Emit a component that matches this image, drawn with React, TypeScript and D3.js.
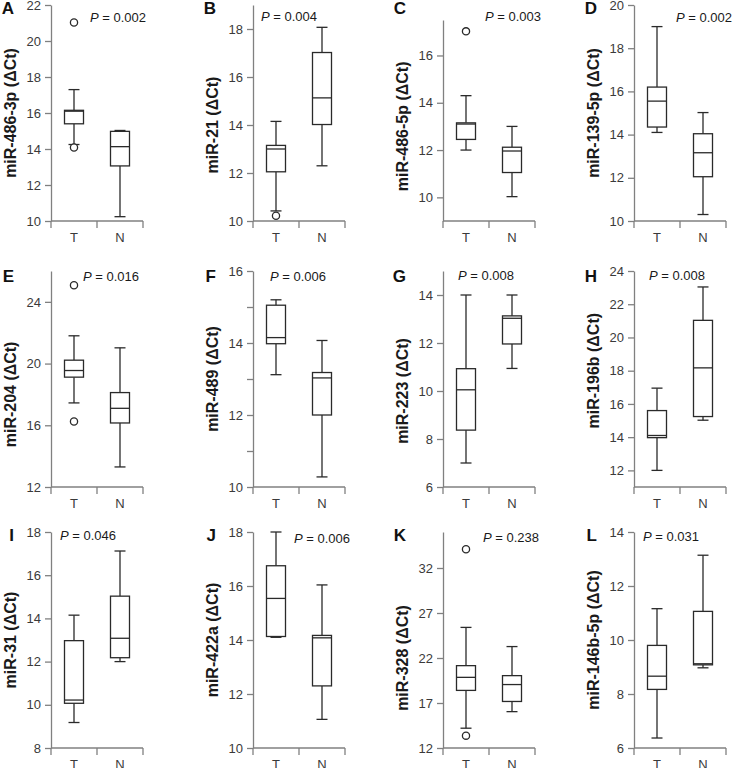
import { useRef, useEffect } from "react";
import * as d3 from "d3";

const letters = ["A", "B", "C", "D", "E", "F", "G", "H", "I", "J", "K", "L"];
const mirNames = [
  "miR-486-3p", "miR-21", "miR-486-5p", "miR-139-5p",
  "miR-204", "miR-489", "miR-223", "miR-196b",
  "miR-31", "miR-422a", "miR-328", "miR-146b-5p",
];
const pValues = ["0.002", "0.004", "0.003", "0.002", "0.016", "0.006", "0.008", "0.008", "0.046", "0.006", "0.238", "0.031"];
const groups = ["T", "N"];

const yDomains = [
  [10, 22], [10, 19], [9, 17.5], [10, 20],
  [12, 26], [10, 16], [6, 15], [11, 24],
  [8, 18], [10, 18], [12, 36], [6, 14],
];
const yTicks = [
  [10, 12, 14, 16, 18, 20, 22],
  [10, 12, 14, 16, 18],
  [10, 12, 14, 16],
  [10, 12, 14, 16, 18, 20],
  [12, 16, 20, 24],
  [10, 12, 14, 16],
  [6, 8, 10, 12, 14],
  [12, 14, 16, 18, 20, 22, 24],
  [8, 10, 12, 14, 16, 18],
  [10, 12, 14, 16, 18],
  [12, 17, 22, 27, 32],
  [6, 8, 10, 12, 14],
];
// unlabelled ticks (only panel F has them)
const yMinorTicks = [[], [], [], [], [], [11, 13, 15], [], [], [], [], [], []];

// [lower whisker, Q1, median, Q3, upper whisker]
const tumorBoxes = [
  [14.25, 15.4, 16.1, 16.15, 17.3],
  [10.42, 12.05, 13.0, 13.15, 14.15],
  [12.0, 12.45, 13.1, 13.15, 14.3],
  [14.1, 14.35, 15.55, 16.2, 19.0],
  [17.45, 19.12, 19.55, 20.22, 21.8],
  [13.12, 13.98, 14.15, 15.05, 15.2],
  [7.0, 8.37, 10.05, 10.93, 14.0],
  [12.0, 13.97, 14.1, 15.6, 16.95],
  [9.18, 10.07, 10.22, 12.97, 14.15],
  [14.1, 14.13, 15.54, 16.75, 18.0],
  [14.2, 18.4, 19.85, 21.15, 25.4],
  [6.37, 8.17, 8.66, 9.8, 11.16],
];
const normalBoxes = [
  [10.24, 13.06, 14.13, 14.98, 15.03],
  [12.3, 14.02, 15.13, 17.02, 18.07],
  [10.03, 11.05, 11.96, 12.12, 13.0],
  [10.3, 12.05, 13.16, 14.04, 15.02],
  [13.3, 16.15, 17.1, 18.12, 21.02],
  [10.28, 12.0, 13.03, 13.18, 14.07],
  [10.94, 11.96, 13.03, 13.13, 14.0],
  [15.02, 15.24, 18.17, 21.03, 23.04],
  [12.0, 12.18, 13.08, 15.03, 17.12],
  [11.06, 12.3, 14.08, 14.17, 16.04],
  [16.04, 17.17, 19.05, 20.04, 23.27],
  [8.97, 9.08, 9.12, 11.06, 13.14],
];
const tumorOutliers = [[14.08, 21.03], [10.22], [17.02], [], [16.25, 25.08], [], [], [], [], [], [13.37, 34.08], []];
const normalOutliers = [[], [], [], [], [], [], [], [], [], [], [], []];

// layout
const axisXs = [51, 253, 443, 634];
const rowBottoms = [221, 487, 748];
const letterBaselines = [13.5, 282, 541];
const plotH = 216;
const topShift = [0, 0, 15, 0, 0, 0, 0, 0, 0, 0, 0, 0];
const pDx = [39, 8, 42, 42, 32, 17, 15, 15, 9, 41, 40, 9];
const pBaselines = [22, 21, 21, 22, 281, 281, 280, 280, 540, 543, 542, 541];

const FONT = "'Liberation Sans', Arial, sans-serif";
const AXIS = "#808080";
const INK = "#2a2a2a";

const App = () => {
  const svgRef = useRef(null);

  useEffect(() => {
    const svg = d3.select(svgRef.current);
    svg.selectAll("*").remove();

    letters.forEach((letter, i) => {
      const col = i % 4;
      const row = Math.floor(i / 4);
      const x0 = axisXs[col];
      const bottom = rowBottoms[row];
      const top = bottom - plotH + topShift[i];

      const y = d3.scaleLinear().domain(yDomains[i]).range([bottom, top]);
      const x = d3.scaleBand().domain(groups).range([x0, x0 + 92]);

      const g = svg.append("g");

      // y axis
      const labelled = yTicks[i];
      const yAxis = d3
        .axisLeft(y)
        .tickValues([...labelled, ...yMinorTicks[i]])
        .tickFormat((d) => (labelled.includes(d) ? String(d) : ""))
        .tickSize(6)
        .tickSizeOuter(0)
        .tickPadding(4);
      const ya = g.append("g").attr("transform", `translate(${x0},0)`).call(yAxis);
      ya.select(".domain").attr("stroke", AXIS).attr("stroke-width", 1.3);
      ya.selectAll(".tick line").attr("stroke", AXIS).attr("stroke-width", 1.3);
      ya.selectAll(".tick text")
        .attr("fill", "#3a3a3a")
        .style("font-family", FONT)
        .style("font-size", "13px");

      // x axis: baseline with ticks at band edges
      const edges = [...groups.map((d) => x(d)), x0 + 92];
      g.append("line")
        .attr("x1", x0).attr("x2", x0 + 92)
        .attr("y1", bottom).attr("y2", bottom)
        .attr("stroke", AXIS).attr("stroke-width", 1.3);
      edges.forEach((ex) =>
        g.append("line")
          .attr("x1", ex).attr("x2", ex)
          .attr("y1", bottom).attr("y2", bottom + 7)
          .attr("stroke", AXIS).attr("stroke-width", 1.3)
      );
      groups.forEach((d) =>
        g.append("text")
          .attr("x", x(d) + x.bandwidth() / 2)
          .attr("y", bottom + 21)
          .attr("text-anchor", "middle")
          .attr("fill", "#3a3a3a")
          .style("font-family", FONT)
          .style("font-size", "13px")
          .text(d)
      );

      // boxes
      const boxW = 19;
      const capW = 11;
      [tumorBoxes[i], normalBoxes[i]].forEach((b, k) => {
        const cx = x(groups[k]) + x.bandwidth() / 2;
        const [lo, q1, med, q3, hi] = b;
        const bg = g.append("g")
          .attr("stroke", INK)
          .attr("stroke-width", 1.3)
          .attr("fill", "none");
        bg.append("line").attr("x1", cx).attr("x2", cx).attr("y1", y(hi)).attr("y2", y(q3));
        bg.append("line").attr("x1", cx).attr("x2", cx).attr("y1", y(q1)).attr("y2", y(lo));
        bg.append("line").attr("x1", cx - capW / 2).attr("x2", cx + capW / 2).attr("y1", y(hi)).attr("y2", y(hi));
        bg.append("line").attr("x1", cx - capW / 2).attr("x2", cx + capW / 2).attr("y1", y(lo)).attr("y2", y(lo));
        bg.append("rect")
          .attr("x", cx - boxW / 2)
          .attr("y", y(q3))
          .attr("width", boxW)
          .attr("height", y(q1) - y(q3))
          .attr("fill", "white");
        bg.append("line").attr("x1", cx - boxW / 2).attr("x2", cx + boxW / 2).attr("y1", y(med)).attr("y2", y(med));

        const outs = k === 0 ? tumorOutliers[i] : normalOutliers[i];
        outs.forEach((v) =>
          bg.append("circle").attr("cx", cx).attr("cy", y(v)).attr("r", 3.6).attr("fill", "white")
        );
      });

      // y label
      const yMid = (y(labelled[0]) + y(labelled[labelled.length - 1])) / 2;
      g.append("text")
        .attr("transform", `translate(${x0 - 35},${yMid}) rotate(-90)`)
        .attr("text-anchor", "middle")
        .attr("fill", "#1a1a1a")
        .style("font-family", FONT)
        .style("font-size", "16px")
        .style("font-weight", "bold")
        .text(`${mirNames[i]} (ΔCt)`);

      // panel letter
      g.append("text")
        .attr("x", x0 - 37)
        .attr("y", letterBaselines[row])
        .attr("text-anchor", "end")
        .attr("fill", "#111")
        .style("font-family", FONT)
        .style("font-size", "17px")
        .style("font-weight", "bold")
        .text(letter);

      // P value
      const pt = g.append("text")
        .attr("x", x0 + pDx[i])
        .attr("y", pBaselines[i])
        .attr("fill", "#1a1a1a")
        .style("font-family", FONT)
        .style("font-size", "13px");
      pt.append("tspan").style("font-style", "italic").text("P");
      pt.append("tspan").text(` = ${pValues[i]}`);
    });
  }, []);

  return (
    <svg
      ref={svgRef}
      width={732}
      height={768}
      style={{ position: "absolute", left: 0, top: 0, background: "white" }}
    ></svg>
  );
};

export default App;
